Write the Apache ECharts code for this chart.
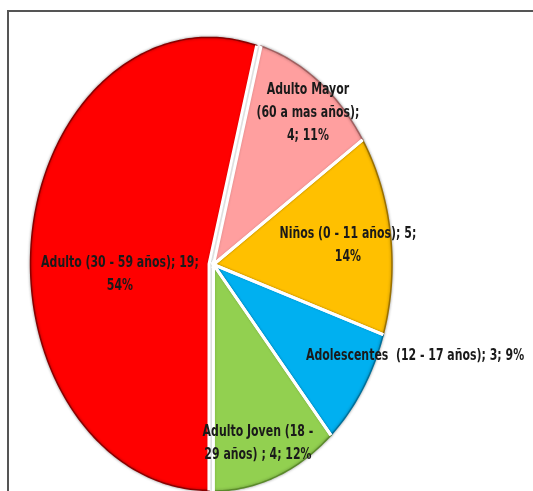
<!DOCTYPE html>
<html>
<head>
<meta charset="utf-8">
<script src="https://cdn.jsdelivr.net/npm/echarts@6/dist/echarts.min.js"></script>
<style>
  html, body { margin: 0; padding: 0; background: #fff; }
  #chart { width: 533px; height: 491px; }
</style>
</head>
<body>
<div id="chart"></div>
<script>
// data, in the order the slices run clockwise
const categories = ['Niños (0 - 11 años)', 'Adolescentes  (12 - 17 años)', 'Adulto Joven (18 - 29 años) ', 'Adulto (30 - 59 años)', 'Adulto Mayor (60 a mas años)']
const values = [5, 3, 4, 19, 4]
const percentLabels = ['14%', '9%', '12%', '54%', '11%']

// label text as wrapped in the original
const labelLines = [
  ['Niños (0 - 11 años); 5;', '14%'],
  ['Adolescentes  (12 - 17 años); 3; 9%'],
  ['Adulto Joven (18 -', '29 años) ; 4; 12%'],
  ['Adulto (30 - 59 años); 19;', '54%'],
  ['Adulto Mayor', '(60 a mas años);', '4; 11%']
]

// styling
const colors = ['#FFC000', '#00B0F0', '#92D050', '#FF0000', '#FF9F9F']
const rims = ['#9a7000', '#00709a', '#5a8a2a', '#8a0000', '#a06060']
const explode = [0, 0, 0, 4.5, 0]
// label anchors in axis units (ellipse radius = 1)
const labelAnchors = [[0.753, 0.084], [1.129, -0.405], [0.249, -0.789], [-0.524, -0.044], [0.529, 0.670]]
const startAngle = 56.6 // degrees clockwise from 12 o'clock
const labelFont = 'bold 16px "DejaVu Sans Condensed", "DejaVu Sans", sans-serif'
const labelSquash = 0.76 // narrow the text like the original condensed face

const total = values.reduce((a, b) => a + b, 0)
const starts = []
let acc = startAngle
values.forEach(v => {
  starts.push(acc)
  acc += v / total * 360
})

const chart = echarts.init(document.getElementById('chart'))

const renderItem = (params, api) => {
  const i = params.dataIndex
  const a0 = starts[i]
  const a1 = a0 + api.value(1) / total * 360
  const mid = (a0 + a1) / 2 * Math.PI / 180
  const ox = explode[i] * Math.sin(mid)
  const oy = -explode[i] * Math.cos(mid)
  const c = api.coord([0, 0])
  const cx = c[0] + ox
  const cy = c[1] + oy
  const arc = []
  const steps = Math.max(2, Math.ceil(a1 - a0))
  for (let s = 0; s <= steps; s++) {
    const t = (a0 + (a1 - a0) * s / steps) * Math.PI / 180
    const p = api.coord([Math.sin(t), Math.cos(t)])
    arc.push([p[0] + ox, p[1] + oy])
  }
  const lp = api.coord(labelAnchors[i])
  return {
    type: 'group',
    children: [
      {
        type: 'polygon',
        shape: { points: [[cx, cy]].concat(arc) },
        style: {
          fill: colors[i],
          stroke: rims[i],
          lineWidth: 1.5,
          shadowBlur: 3,
          shadowColor: 'rgba(0,0,0,0.35)'
        }
      },
      {
        // white gaps along the radial edges
        type: 'polyline',
        z2: 10,
        shape: { points: [arc[0], [cx, cy], arc[arc.length - 1]] },
        style: { stroke: '#ffffff', lineWidth: 3, fill: null }
      },
      {
        type: 'text',
        z2: 100,
        x: lp[0],
        y: lp[1],
        scaleX: labelSquash,
        style: {
          text: labelLines[i].join('\n'),
          x: 0,
          y: 0,
          align: 'center',
          verticalAlign: 'middle',
          lineHeight: 23,
          font: labelFont,
          fill: '#1a1a1a'
        }
      }
    ]
  }
}

const option = {
  backgroundColor: '#ffffff',
  animation: false,
  grid: {
    left: 35,
    top: 38,
    width: 357,
    height: 454
  },
  xAxis: { type: 'value', min: -1, max: 1, show: false },
  yAxis: { type: 'value', min: -1, max: 1, show: false },
  graphic: [
    {
      type: 'polyline',
      shape: { points: [[8, 491], [8, 11], [533, 11]] },
      style: { stroke: '#555555', lineWidth: 2, fill: null }
    }
  ],
  series: [
    {
      type: 'custom',
      renderItem: renderItem,
      clip: false,
      data: categories.map((name, i) => ({ name: name, value: [i, values[i], percentLabels[i]] }))
    }
  ]
}

chart.setOption(option)
</script>
</body>
</html>
